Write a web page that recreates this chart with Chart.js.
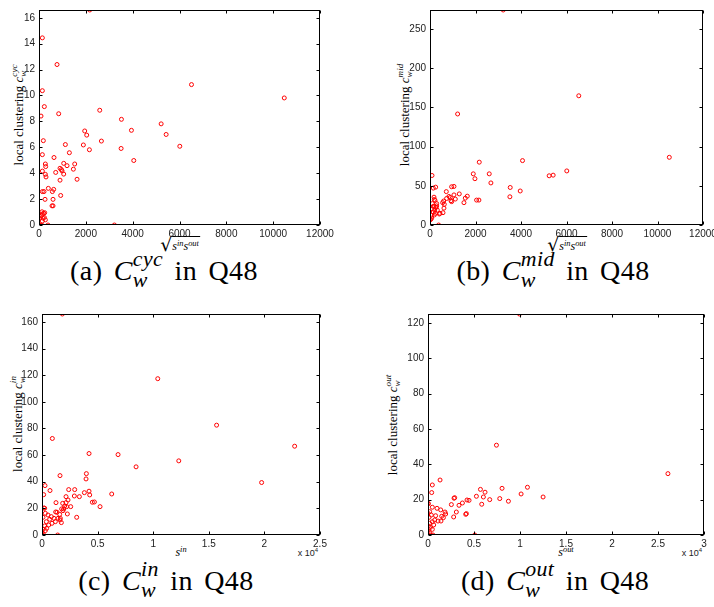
<!DOCTYPE html>
<html>
<head>
<meta charset="utf-8">
<script src="https://cdn.jsdelivr.net/npm/chart.js@4.4.1/dist/chart.umd.min.js"></script>
<style>
  html, body { margin: 0; padding: 0; background: #fff; }
  body { position: relative; width: 714px; height: 607px; overflow: hidden; }
  canvas { position: absolute; left: 0; top: 0; }
  .t { position: absolute; white-space: nowrap; color: #000; line-height: 1;
       font-family: "Liberation Serif", "Times New Roman", serif; }
  .yt { font-size: 13px; transform: translate(-50%, -50%) rotate(-90deg); }
  .xt { font-size: 12px; transform: translate(-50%, -50%); }
  .cap { font-size: 28px; letter-spacing: 0.4px; word-spacing: 4px; transform: translate(-50%, -50%); }
  .cap .ss { font-size: 0.78em; }
  .e4 { font-family: "Liberation Sans", Arial, sans-serif; font-size: 9px; color: #222;
        transform: translate(-50%, -50%); }
  .e4 sup { font-size: 6px; vertical-align: 4px; line-height: 0; }
  .ss { display: inline-block; vertical-align: -0.3em; font-size: 0.7em; line-height: 0.95;
        font-style: italic; text-align: left; }
  .ss span { display: block; }
  .sp { font-size: 0.7em; font-style: italic; vertical-align: 0.45em; line-height: 0; }
  .sq { display: inline-flex; align-items: flex-end; }
  .root { font-size: 19px; line-height: 16px; font-family: "DejaVu Serif", serif; margin-right: -1px; }
  .rad { display: inline-block; border-top: 1px solid #000; padding: 3px 1px 0 1px; line-height: 12px; }
</style>
</head>
<body>
<!-- axis titles and panel captions -->
<div class="t yt" style="left:19px;top:115px">local clustering <i>c</i><span class="ss"><span>cyc</span><span>w</span></span></div>
<div class="t yt" style="left:405px;top:115px">local clustering <i>c</i><span class="ss"><span>mid</span><span>w</span></span></div>
<div class="t yt" style="left:18px;top:424px">local clustering <i>c</i><span class="ss"><span>in</span><span>w</span></span></div>
<div class="t yt" style="left:393px;top:425px">local clustering <i>c</i><span class="ss"><span>out</span><span>w</span></span></div>

<div class="t xt sq" style="left:180px;top:244px"><span class="root">√</span><span class="rad"><i>s</i><span class="sp">in</span><i>s</i><span class="sp">out</span></span></div>
<div class="t xt sq" style="left:567px;top:244px"><span class="root">√</span><span class="rad"><i>s</i><span class="sp">in</span><i>s</i><span class="sp">out</span></span></div>
<div class="t xt" style="left:181px;top:552px"><i>s</i><span class="sp">in</span></div>
<div class="t xt" style="left:566px;top:552px"><i>s</i><span class="sp">out</span></div>

<div class="t e4" style="left:308px;top:553px">x 10<sup>4</sup></div>
<div class="t e4" style="left:692px;top:553px">x 10<sup>4</sup></div>

<div class="t cap" style="left:164px;top:270px">(a) <i>C</i><span class="ss"><span>cyc</span><span>w</span></span> in Q48</div>
<div class="t cap" style="left:553px;top:270px">(b) <i>C</i><span class="ss"><span>mid</span><span>w</span></span> in Q48</div>
<div class="t cap" style="left:166px;top:580px">(c) <i>C</i><span class="ss"><span>in</span><span>w</span></span> in Q48</div>
<div class="t cap" style="left:555px;top:580px">(d) <i>C</i><span class="ss"><span>out</span><span>w</span></span> in Q48</div>

<script>
// ---- (a) cycle clustering vs sqrt(s_in * s_out)
const cycX = [2166, 143, 770, 6512, 143, 10474, 228, 86, 841, 2594, 3520, 5216, 3947, 1952, 2038, 5429,
  185, 2665, 1126, 1895, 6013, 3506, 2152, 1297, 143, 641, 4047, 271, 285, 1525, 1197, 1055, 898, 955,
  984, 1468, 143, 713, 1055, 271, 299, 1625, 898, 399, 627, 570, 143, 214, 926, 257, 599, 556, 599,
  128, 243, 143, 28, 171, 271, 143, 228, 200, 100, 0, 57, 114, 385, 3220];
const cycY = [16.6, 14.45, 12.39, 10.84, 10.37, 9.81, 9.14, 8.41, 8.59, 8.86, 8.16, 7.81, 7.31, 7.26, 6.94, 6.99,
  6.51, 6.48, 6.21, 6.18, 6.08, 5.91, 5.81, 5.58, 5.43, 5.21, 4.98, 4.71, 4.51, 4.71, 4.58, 4.76, 4.38, 4.28,
  4.18, 4.31, 4.16, 4.06, 3.93, 3.91, 3.71, 3.53, 3.46, 2.83, 2.75, 2.58, 2.58, 2.58, 2.28, 1.98, 1.98, 1.48, 1.48,
  1.02, 0.95, 0.85, 0.53, 0.53, 0.4, 0.3, 0.58, 0.9, 0.7, 0, 0, 0, 0, 0];

// ---- (b) middleman clustering vs sqrt(s_in * s_out)
const midX = [3219, 6540, 1214, 10519, 4067, 2165, 6013, 1902, 2604, 5413, 5238, 88, 1975, 2677, 1053, 951,
  249, 146, 3526, 3965, 717, 1287, 1053, 1639, 3511, 834, 892, 731, 1112, 1551, 190, 2048, 2150, 922, 600,
  556, 1492, 951, 293, 629, 293, 146, 88, 614, 571, 439, 190, 73, 29, 380, 176, 220, 102, 176, 263, 205,
  322, 146, 234, 73, 410, 0];
const midY = [274.4, 164.9, 141.7, 86.4, 82.2, 80.2, 69.0, 65.3, 65.3, 63.6, 62.8, 63.2, 59.1, 53.7, 49.2, 48.8,
  48.3, 47.1, 47.9, 43.4, 42.6, 39.7, 38.4, 36.8, 36.0, 36.4, 35.1, 33.9, 33.1, 34.3, 32.6, 31.8, 31.8, 31.0, 30.6,
  28.5, 28.5, 29.8, 27.3, 26.4, 24.4, 23.6, 20.7, 21.5, 15.7, 14.9, 12.8, 8.7, 7.0, 0, 35.5, 31.4, 27.3, 24.0, 22.3, 19.0,
  19.0, 16.5, 14.9, 12.4, 14.0, 6.6];

// ---- (c) in-clustering vs in-strength
const inX = [1830, 10410, 15700, 930, 22720, 4230, 6840, 12300, 8460, 3990, 1620, 3960, 19750, 270, 720, 2400,
  2940, 4230, 3810, 6270, 150, 4290, 2160, 2910, 3360, 2340, 1260, 2160, 1860, 4530, 4710, 2040, 2580, 5220,
  2220, 1770, 1950, 180, 240, 1890, 1230, 1350, 2280, 1590, 3120, 1650, 1410, 300, 540, 840, 90, 1080, 690,
  1440, 1620, 390, 1200, 1740, 900, 600, 240, 420, 90, 300, 0, 120, 0];
const inY = [166, 117.4, 82.5, 72.5, 66.7, 61.2, 60.4, 55.7, 51.2, 46.1, 44.6, 42.1, 39.4, 37.1, 33.4, 34.1,
  34.1, 32.9, 31.8, 30.8, 30.3, 30.1, 28.8, 29.3, 28.8, 26.3, 24.3, 24.3, 23.8, 24.6, 24.8, 21.8, 21.3, 21.3,
  21.3, 19.6, 19.6, 20.3, 20.1, 18.3, 17.3, 17.1, 15.8, 15.5, 13.3, 12.5, 0, 16.3, 15.0, 13.8, 13.3, 12.5, 11.8,
  12.5, 11.3, 10.0, 10.0, 9.3, 8.8, 7.5, 6.8, 5.0, 4.3, 3.3, 1.8, 0.5, 0];

// ---- (d) out-clustering vs out-strength
const outX = [9940, 7440, 26080, 1310, 470, 10810, 8050, 5700, 6200, 400, 10120, 5260, 12510, 6020, 2900, 2830,
  7800, 4240, 4460, 6710, 8740, 40, 5840, 3740, 2540, 3370, 470, 980, 1380, 1850, 3080, 1920, 4170, 4100,
  830, 1490, 1670, 2790, 1410, 1090, 5080, 0, 180, 0, 360, 110, 730, 470, 180, 620, 40, 260, 470, 0, 180,
  40, 290, 540];
const outY = [125, 50.8, 34.7, 31.1, 28.3, 27.0, 26.4, 25.8, 24.2, 24.0, 23.2, 21.9, 21.5, 21.5, 21.1, 20.8,
  20.6, 19.8, 19.6, 20.0, 19.1, 17.7, 17.4, 18.1, 17.2, 16.8, 15.7, 15.1, 14.2, 13.0, 13.0, 11.9, 12.1, 11.7,
  10.9, 10.6, 9.8, 10.2, 7.9, 7.9, 0, 17.9, 13.2, 12.3, 11.3, 10.0, 8.5, 7.5, 6.6, 5.7, 5.1, 4.3, 3.2, 2.5, 1.3,
  0.2, 0, 0];

// tick values
const sqrtTicks = [0, 2000, 4000, 6000, 8000, 10000, 12000];
const cycTicks = [0, 2, 4, 6, 8, 10, 12, 14, 16];
const midTicks = [0, 50, 100, 150, 200, 250];
const inTicksX = [0, 5000, 10000, 15000, 20000, 25000];
const inTicksY = [0, 20, 40, 60, 80, 100, 120, 140, 160];
const outTicksX = [0, 5000, 10000, 15000, 20000, 25000, 30000];
const outTicksY = [0, 20, 40, 60, 80, 100, 120];

const CW = 760, CH = 640, YW = 30, XH = 16, TICK = 3;

// box frame with inward tick marks on all four sides
const framePlugin = {
  id: 'frame',
  afterDraw(chart) {
    const { ctx, chartArea: a, scales } = chart;
    const l = Math.round(a.left) + 0.5, r = Math.round(a.right) - 0.5;
    const t = Math.round(a.top) + 0.5, b = Math.round(a.bottom) - 0.5;
    ctx.save();
    ctx.strokeStyle = '#000';
    ctx.lineWidth = 1;
    ctx.beginPath();
    scales.x.ticks.forEach(tk => {
      const x = Math.round(scales.x.getPixelForValue(tk.value)) + 0.5;
      ctx.moveTo(x, b); ctx.lineTo(x, b - TICK);
      ctx.moveTo(x, t); ctx.lineTo(x, t + TICK);
    });
    scales.y.ticks.forEach(tk => {
      const y = Math.round(scales.y.getPixelForValue(tk.value)) + 0.5;
      ctx.moveTo(l, y); ctx.lineTo(l + TICK, y);
      ctx.moveTo(r, y); ctx.lineTo(r - TICK, y);
    });
    ctx.stroke();
    ctx.strokeRect(l, t, r - l, b - t);
    ctx.restore();
  }
};

function panel(p) {
  const canvas = document.createElement('canvas');
  canvas.width = CW; canvas.height = CH;
  document.body.appendChild(canvas);
  const tickFont = { family: '"Liberation Sans", Arial, sans-serif', size: 10 };
  new Chart(canvas, {
    type: 'scatter',
    data: {
      datasets: [{
        data: p.xs.map((x, i) => ({ x, y: p.ys[i] })),
        pointStyle: 'circle',
        pointRadius: 2,
        pointHoverRadius: 2,
        pointBorderWidth: 1,
        pointBorderColor: '#ff0000',
        pointBackgroundColor: 'rgba(0,0,0,0)'
      }]
    },
    options: {
      responsive: false,
      animation: false,
      devicePixelRatio: 1,
      events: [],
      layout: { padding: { left: p.L - YW, top: p.T, right: CW - p.R, bottom: CH - p.B - XH } },
      plugins: { legend: { display: false }, tooltip: { enabled: false } },
      scales: {
        x: {
          type: 'linear', min: 0, max: p.xTicks[p.xTicks.length - 1],
          afterBuildTicks: s => { s.ticks = p.xTicks.map(v => ({ value: v })); },
          afterFit: s => { s.height = XH; },
          grid: { display: false, drawTicks: false },
          border: { display: false },
          ticks: { padding: 3, font: tickFont, color: '#222', maxRotation: 0, autoSkip: false,
                   callback: v => p.xFmt ? p.xFmt(v) : String(v) }
        },
        y: {
          type: 'linear', min: 0, max: p.yMax,
          afterBuildTicks: s => { s.ticks = p.yTicks.map(v => ({ value: v })); },
          afterFit: s => { s.width = YW; },
          grid: { display: false, drawTicks: false },
          border: { display: false },
          ticks: { padding: 4, font: tickFont, color: '#222', autoSkip: false,
                   callback: v => String(v) }
        }
      }
    },
    plugins: [framePlugin]
  });
}

const per1e4 = v => String(v / 10000);

panel({ xs: cycX, ys: cycY, xTicks: sqrtTicks, yTicks: cycTicks, yMax: 16.6, L: 39, T: 4, R: 320, B: 225 });
panel({ xs: midX, ys: midY, xTicks: sqrtTicks, yTicks: midTicks, yMax: 274.4, L: 430, T: 4, R: 703, B: 225 });
panel({ xs: inX, ys: inY, xTicks: inTicksX, yTicks: inTicksY, yMax: 166, L: 42, T: 314, R: 320, B: 535, xFmt: per1e4 });
panel({ xs: outX, ys: outY, xTicks: outTicksX, yTicks: outTicksY, yMax: 125, L: 428, T: 314, R: 704, B: 535, xFmt: per1e4 });
</script>
</body>
</html>
